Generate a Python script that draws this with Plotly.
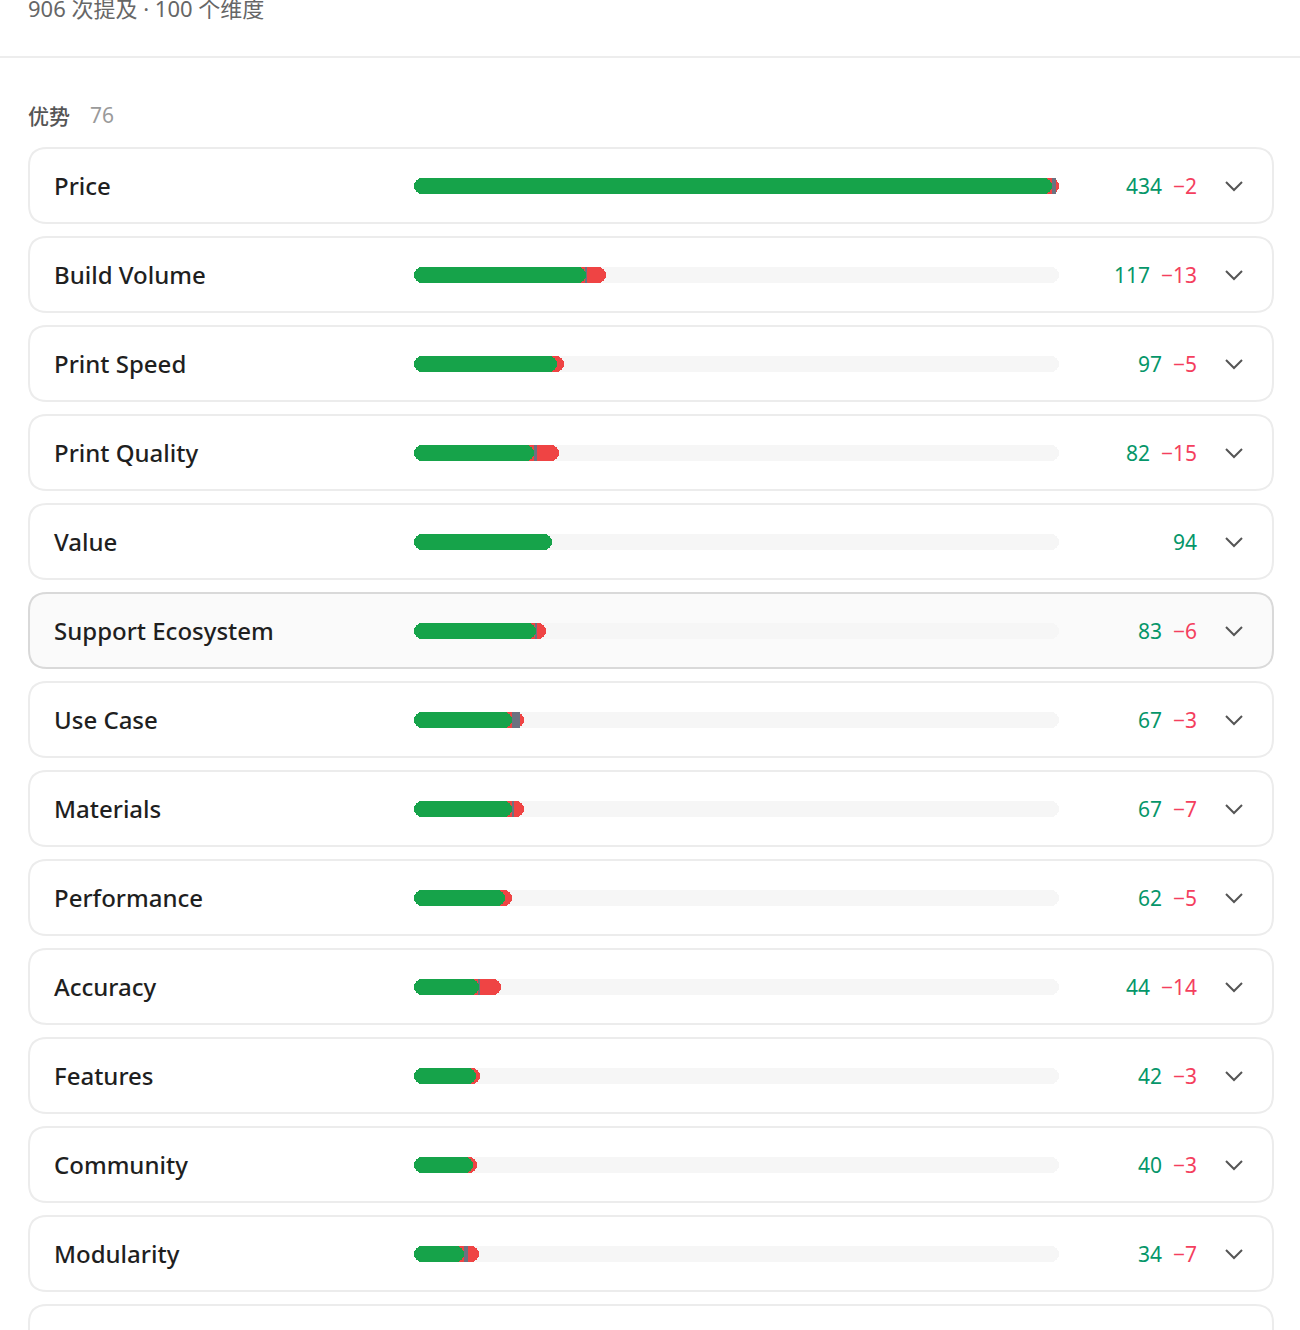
import plotly.graph_objects as go

# ---------------- data ----------------
categories = ["Price", "Build Volume", "Print Speed", "Print Quality", "Value",
              "Support Ecosystem", "Use Case", "Materials", "Performance",
              "Accuracy", "Features", "Community", "Modularity"]
positive = [434, 117, 97, 82, 94, 83, 67, 67, 62, 44, 42, 40, 34]
neutral = [3, 1, 0, 2, 0, 1, 5, 1, 0, 1, 0, 0, 3]
negative = [2, 13, 5, 15, 0, 6, 3, 7, 5, 14, 3, 3, 7]
header_text = "906 次提及 · 100 个维度"
section_title = "优势"
section_count = 76
highlight_index = 5

# ---------------- style ----------------
W, H = 1300, 1330
FONT = "Noto Sans, Noto Sans CJK SC, sans-serif"
GREEN = "#16a34a"
GREY = "#6b7280"
RED = "#ef4444"
TRACK = "#f6f6f6"
NUM_GREEN = "#059669"
NUM_RED = "#f43f5e"
TRACK_X0, TRACK_X1 = 414, 1059
ROW0, PITCH = 186, 89
CARD_X0, CARD_X1, CARD_H, CARD_TOP0 = 29, 1273, 75, 148
BAR_H = 16


def fx(x):
    return x / W


def fy(y):
    return 1 - y / H


def rrect(x0, y0, x1, y1, r):
    p = lambda x, y: f"{fx(x):.6f},{fy(y):.6f}"
    return (f"M{p(x0 + r, y0)} L{p(x1 - r, y0)} Q{p(x1, y0)} {p(x1, y0 + r)} "
            f"L{p(x1, y1 - r)} Q{p(x1, y1)} {p(x1 - r, y1)} L{p(x0 + r, y1)} "
            f"Q{p(x0, y1)} {p(x0, y1 - r)} L{p(x0, y0 + r)} Q{p(x0, y0)} {p(x0 + r, y0)} Z")


n = len(categories)
idx = list(range(n))
totals = [p + u + g for p, u, g in zip(positive, neutral, negative)]
MAX = max(totals)
bw = BAR_H / PITCH

cap_color = [RED if g > 0 else (GREY if u > 0 else GREEN) for u, g in zip(neutral, negative)]
half = [p / 2 for p in positive]

fig = go.Figure()
common = dict(orientation="h", width=bw, hoverinfo="skip", showlegend=False)

# track (pill)
fig.add_trace(go.Bar(y=idx, x=[MAX] * n, base=[0] * n,
                     marker=dict(color=TRACK, cornerradius=8, line=dict(width=0)), **common))
fig.add_trace(go.Bar(y=idx, x=[-MAX] * n, base=[MAX] * n,
                     marker=dict(color=TRACK, cornerradius=8, line=dict(width=0)), **common))
# end cap (rounded right)
fig.add_trace(go.Bar(y=idx, x=[t - h for t, h in zip(totals, half)], base=half,
                     marker=dict(color=cap_color, cornerradius=8, line=dict(width=0)), **common))
# neutral segment
fig.add_trace(go.Bar(y=idx, x=[u if (u > 0 and g > 0) else None for u, g in zip(neutral, negative)],
                     base=positive,
                     marker=dict(color=GREY, line=dict(width=0)), **common))
# positive segment (rounded left)
fig.add_trace(go.Bar(y=idx, x=[-p for p in positive], base=positive,
                     marker=dict(color=GREEN, cornerradius=8, line=dict(width=0)), **common))

shapes = []
annotations = []

# header
annotations.append(dict(text=header_text, x=fx(26), y=fy(8), xref="paper", yref="paper",
                        xanchor="left", yanchor="middle", showarrow=False,
                        font=dict(family=FONT, size=22, color="#666666")))
shapes.append(dict(type="line", xref="paper", yref="paper", x0=0, x1=1, y0=fy(57), y1=fy(57),
                   line=dict(color="#ededed", width=2), layer="below"))
annotations.append(dict(text=section_title, x=fx(26), y=fy(115), xref="paper", yref="paper",
                        xanchor="left", yanchor="middle", showarrow=False,
                        font=dict(family="Noto Sans CJK SC", size=21, color="#555555", weight=500)))
annotations.append(dict(text=str(section_count), x=fx(88), y=fy(115), xref="paper", yref="paper",
                        xanchor="left", yanchor="middle", showarrow=False,
                        font=dict(family=FONT, size=21, color="#9a9a9a")))

# cards
for i in range(n + 1):
    top = CARD_TOP0 + PITCH * i
    bot = top + CARD_H if i < n else top + 200
    hl = (i == highlight_index)
    shapes.append(dict(type="path", xref="paper", yref="paper",
                       path=rrect(CARD_X0, top, CARD_X1, bot, 18),
                       fillcolor="#fafafa" if hl else "#ffffff",
                       line=dict(color="#d9d9d9" if hl else "#ececec", width=2),
                       layer="below"))

for i, name in enumerate(categories):
    cy = ROW0 + PITCH * i
    annotations.append(dict(text=name, x=fx(52), y=i - 0.01, xref="paper", yref="y",
                            xanchor="left", yanchor="middle", showarrow=False,
                            font=dict(family=FONT, size=24, color="#1f1f1f", weight=500)))
    txt = f"<span style='color:{NUM_GREEN}'>{positive[i]}</span>"
    if negative[i] > 0:
        txt += f"&nbsp;&nbsp;<span style='color:{NUM_RED}'>−{negative[i]}</span>"
    annotations.append(dict(text=txt, x=fx(1199), y=i, xref="paper", yref="y",
                            xanchor="right", yanchor="middle", showarrow=False,
                            font=dict(family=FONT, size=21, color=NUM_GREEN)))
    # chevron
    p = lambda x, y: f"{fx(x):.6f},{fy(y):.6f}"
    shapes.append(dict(type="path", xref="paper", yref="paper",
                       path=f"M{p(1226, cy - 4)} L{p(1234, cy + 4)} L{p(1242, cy - 4)}",
                       line=dict(color="#555555", width=2)))

r_top = -ROW0 / PITCH
r_bot = r_top + H / PITCH

fig.update_layout(
    width=W, height=H, margin=dict(l=0, r=0, t=0, b=0),
    paper_bgcolor="#ffffff", plot_bgcolor="rgba(0,0,0,0)",
    barmode="overlay", bargap=0,
    xaxis=dict(domain=[fx(TRACK_X0), fx(TRACK_X1)], range=[0, MAX], visible=False, fixedrange=True),
    yaxis=dict(domain=[0, 1], range=[r_bot, r_top], visible=False, fixedrange=True),
    shapes=shapes, annotations=annotations,
    font=dict(family=FONT),
)

fig.write_html("out.html", config={"displayModeBar": False},
               post_script="document.body.style.margin='0';document.body.style.overflow='hidden';")
